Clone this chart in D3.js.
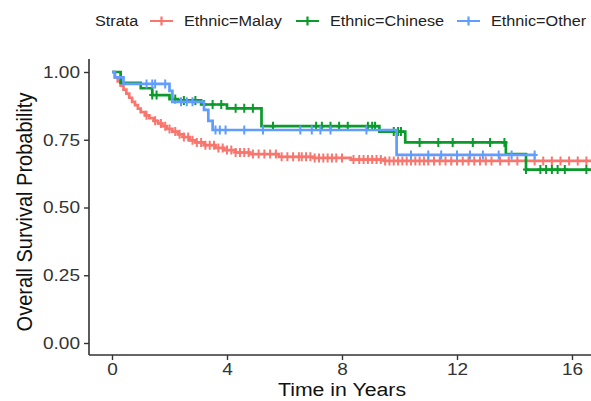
<!DOCTYPE html>
<html>
<head>
<meta charset="utf-8">
<script src="https://cdn.jsdelivr.net/npm/d3@7"></script>
<style>
  body { margin: 0; background: #fff; }
  text { font-family: "Liberation Sans", Arial, sans-serif; }
</style>
</head>
<body>
<div id="chart"></div>
<script>
// strata, colours and legend labels
const strata = ["Malay", "Chinese", "Other"];
const strataLabels = ["Ethnic=Malay", "Ethnic=Chinese", "Ethnic=Other"];
const strataColors = ["#F8766D", "#0A9B2A", "#619CFF"];

// Kaplan-Meier steps (time in years, survival)
const malayTime = [0, 0.1, 0.2, 0.3, 0.4, 0.5, 0.6, 0.7, 0.8, 0.9, 1.0, 1.15, 1.3, 1.45, 1.6, 1.75, 1.9, 2.1, 2.3, 2.5, 2.7, 2.9, 3.2, 3.6, 3.9, 4.3, 4.8, 5.8, 7.0, 8.3, 9.5, 16.8];
const malaySurv = [1.0, 0.98, 0.965, 0.95, 0.935, 0.92, 0.905, 0.89, 0.878, 0.865, 0.852, 0.84, 0.83, 0.82, 0.81, 0.80, 0.79, 0.78, 0.77, 0.76, 0.748, 0.74, 0.73, 0.72, 0.712, 0.703, 0.697, 0.687, 0.683, 0.677, 0.672, 0.672];
const malayCensor = [1.2, 1.5, 1.7, 1.85, 2.0, 2.2, 2.35, 2.5, 2.65, 2.8, 2.95, 3.1, 3.25, 3.4, 3.55, 3.7, 3.85, 4.0, 4.15, 4.3, 4.45, 4.6, 4.75, 4.9, 5.1, 5.3, 5.5, 5.7, 5.9, 6.1, 6.3, 6.5, 6.6, 6.75, 6.9, 7.05, 7.2, 7.35, 7.5, 7.65, 7.8, 8.0, 8.4, 8.6, 8.75, 8.9, 9.05, 9.2, 9.35, 9.5, 9.65, 9.8, 9.95, 10.1, 10.25, 10.4, 10.55, 10.7, 10.85, 11.0, 11.2, 11.4, 11.6, 11.8, 12.0, 12.2, 12.4, 12.6, 12.8, 13.0, 13.2, 13.5, 13.8, 14.1, 14.4, 14.7, 15.0, 15.3, 15.6, 15.9, 16.2, 16.5];

const chineseTime = [0, 0.3, 1.0, 1.4, 2.0, 2.3, 3.1, 4.0, 5.2, 9.3, 10.2, 13.7, 14.4, 16.8];
const chineseSurv = [1.0, 0.96, 0.94, 0.915, 0.90, 0.895, 0.88, 0.866, 0.80, 0.78, 0.74, 0.697, 0.64, 0.64];
const chineseCensor = [1.4, 1.55, 2.2, 2.5, 2.9, 3.2, 3.5, 3.8, 4.3, 4.6, 4.9, 5.6, 7.1, 7.3, 7.6, 7.9, 8.2, 8.9, 9.05, 9.15, 9.8, 9.95, 10.05, 10.7, 11.35, 11.85, 12.55, 13.15, 13.65, 14.4, 14.9, 15.1, 15.3, 15.5, 15.75, 16.5];

const otherTime = [0, 0.1, 0.4, 2.0, 2.1, 3.2, 3.35, 3.5, 9.9, 14.75];
const otherSurv = [1.0, 0.98, 0.956, 0.93, 0.89, 0.86, 0.82, 0.786, 0.694, 0.694];
const otherCensor = [1.2, 1.4, 1.5, 1.85, 2.4, 2.6, 2.8, 3.6, 3.75, 3.95, 4.6, 5.25, 6.55, 6.95, 7.25, 7.6, 8.85, 10.4, 11.0, 11.45, 12.0, 12.45, 12.9, 13.45, 13.9, 14.7];

const xTicks = [0, 4, 8, 12, 16];
const yTicks = [0, 0.25, 0.5, 0.75, 1];

const curves = [
  {time: malayTime, surv: malaySurv, censor: malayCensor},
  {time: chineseTime, surv: chineseSurv, censor: chineseCensor},
  {time: otherTime, surv: otherSurv, censor: otherCensor}
];

const width = 591, height = 401;
const plot = {left: 89, right: 591, top: 59, bottom: 355};

const svg = d3.select("#chart")
  .append("svg")
  .attr("width", width)
  .attr("height", height);

const x = d3.scaleLinear().domain([0, 16]).range([112, 572]);
const y = d3.scaleLinear().domain([0, 1]).range([343, 72]);

// clip to the panel
svg.append("clipPath").attr("id", "panel")
  .append("rect")
  .attr("x", plot.left).attr("y", plot.top)
  .attr("width", plot.right - plot.left).attr("height", plot.bottom - plot.top);

const stretch = 1.12; // the source picture is a bit wider than tall

// axes
const yAxis = svg.append("g")
  .attr("transform", "translate(" + plot.left + ",0)")
  .call(d3.axisLeft(y).tickValues(yTicks).tickFormat(d3.format(".2f")).tickSize(5).tickPadding(4));
yAxis.select(".domain").attr("d", "M0," + plot.top + "V" + plot.bottom);

const xAxis = svg.append("g")
  .attr("transform", "translate(0," + plot.bottom + ")")
  .call(d3.axisBottom(x).tickValues(xTicks).tickSize(5).tickPadding(3));
xAxis.select(".domain").attr("d", "M" + plot.left + ",0H" + plot.right);

svg.selectAll(".domain").attr("stroke", "#333").attr("stroke-width", 1.6);
svg.selectAll(".tick line").attr("stroke", "#333").attr("stroke-width", 1.4);
svg.selectAll(".tick text")
  .attr("fill", "#333")
  .style("font-size", "17px")
  .style("font-family", "'Liberation Sans', Arial, sans-serif");
yAxis.selectAll(".tick text").attr("transform", function() {
  const tx = +d3.select(this).attr("x");
  return "translate(" + tx + ",0) scale(" + stretch + ",1) translate(" + (-tx) + ",0)";
});
xAxis.selectAll(".tick text").attr("transform", "scale(" + stretch + ",1)");

// axis titles
svg.append("text")
  .attr("transform", "translate(342,396) scale(" + stretch + ",1)")
  .attr("text-anchor", "middle")
  .style("font-size", "19px")
  .attr("fill", "#111")
  .text("Time in Years");

svg.append("text")
  .attr("transform", "translate(32,212) scale(" + stretch + ",1) rotate(-90)")
  .attr("text-anchor", "middle")
  .style("font-size", "20px")
  .attr("fill", "#111")
  .text("Overall Survival Probability");

// survival curves
const panel = svg.append("g").attr("clip-path", "url(#panel)");
const line = d3.line()
  .x(d => x(d[0]))
  .y(d => y(d[1]))
  .curve(d3.curveStepAfter);

function survAt(c, t) {
  const i = d3.bisectRight(c.time, t) - 1;
  return c.surv[Math.max(0, i)];
}

curves.forEach((c, k) => {
  const pts = c.time.map((t, i) => [t, c.surv[i]]);
  panel.append("path")
    .datum(pts)
    .attr("fill", "none")
    .attr("stroke", strataColors[k])
    .attr("stroke-width", 2.7)
    .attr("d", line);

  panel.selectAll(".censor-" + strata[k])
    .data(c.censor)
    .enter()
    .append("path")
    .attr("class", "censor-" + strata[k])
    .attr("transform", t => "translate(" + x(t) + "," + y(survAt(c, t)) + ")")
    .attr("d", "M0,-4.5V4.5M-3,0H3")
    .attr("stroke", strataColors[k])
    .attr("stroke-width", 2)
    .attr("fill", "none");
});

// legend
const legend = svg.append("g").attr("class", "legend");
legend.append("text")
  .attr("transform", "translate(95,26) scale(" + stretch + ",1)")
  .style("font-size", "14.5px")
  .attr("fill", "#222")
  .text("Strata");

const keyX = [150, 296, 457];
strata.forEach((s, k) => {
  const g = legend.append("g").attr("transform", "translate(" + keyX[k] + ",21)");
  g.append("path")
    .attr("d", "M0,0H23M11.5,-4.5V4.5")
    .attr("stroke", strataColors[k])
    .attr("stroke-width", 2.2)
    .attr("fill", "none");
  g.append("text")
    .attr("transform", "translate(34,5) scale(" + stretch + ",1)")
    .style("font-size", "14.5px")
    .attr("fill", "#222")
    .text(strataLabels[k]);
});
</script>
</body>
</html>
